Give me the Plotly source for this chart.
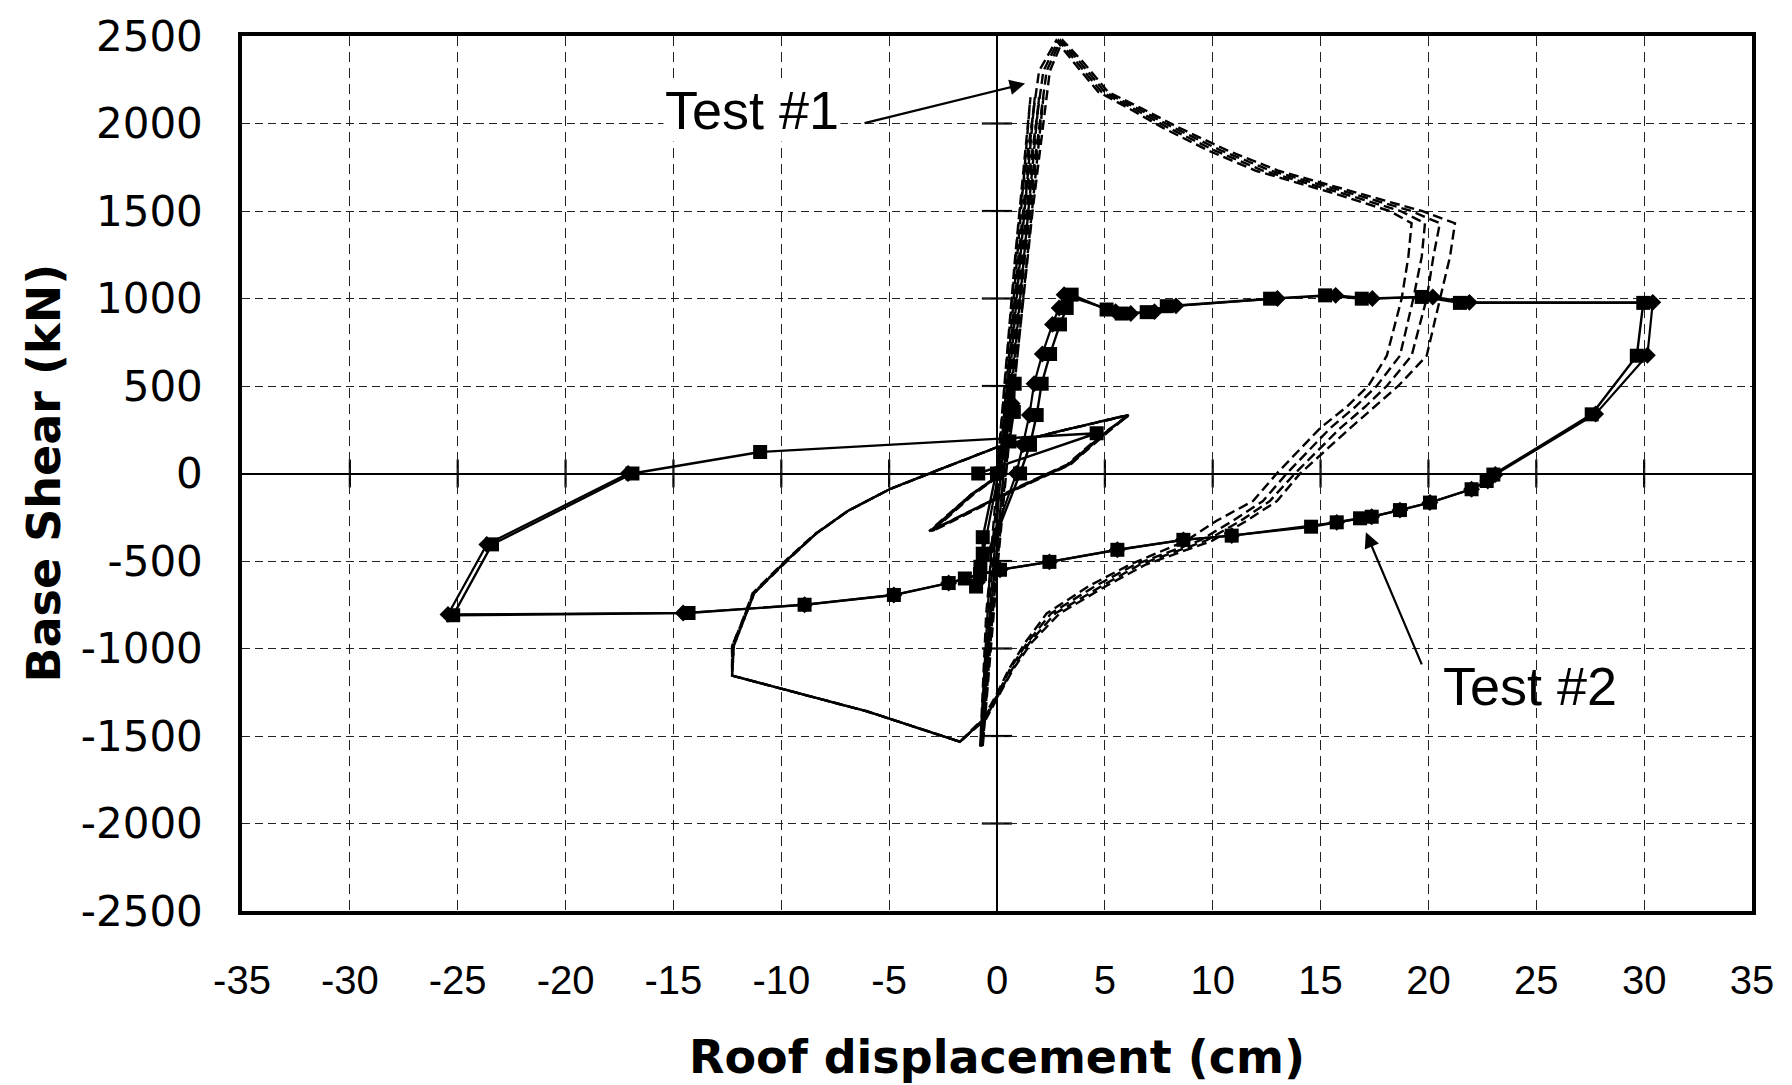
import plotly.graph_objects as go

# ---------------- axis ticks ----------------
x_tick_vals = [-35, -30, -25, -20, -15, -10, -5, 0, 5, 10, 15, 20, 25, 30, 35]
x_tick_text = ["-35", "-30", "-25", "-20", "-15", "-10", "-5", "0", "5", "10", "15", "20", "25", "30", "35"]
y_tick_vals = [-2500, -2000, -1500, -1000, -500, 0, 500, 1000, 1500, 2000, 2500]
y_tick_text = ["-2500", "-2000", "-1500", "-1000", "-500", "0", "500", "1000", "1500", "2000", "2500"]

# ---------------- Test #1 (dashed, four nearly coincident records) ----------------
t1_shear = [0, 1250, 2150, 0, -800, -1560, -500, 500, 1500, 2300,
            2475, 2350, 2180, 2087, 1975, 1845, 1730, 1605, 1500, 1430,
            1239, 1000, 673, 500, 380, 258, 0, -157, -270, -383,
            -520, -640, -800, -967, -1118, -1269, -1401, -1533, -1360, -1155,
            -985, -873, -684, -496, -345, -213, -90, 23, 150, 245,
            334, 232, 51, -90, -330, -120, 0]
t1_disp_a = [0.0, 0.85, 1.55, 0.1, -0.5, -0.78, -0.3, 0.35, 1.05, 1.95,
             2.75, 3.55, 4.7, 6.1, 7.7, 9.8, 12.0, 15.5, 18.2, 19.22,
             19.07, 18.76, 18.07, 17.21, 16.2, 14.97, 12.97, 11.87, 10.18, 8.79,
             6.17, 4.3, 2.3, 1.3, 0.55, -0.05, -0.65, -1.72, -6.0, -12.28,
             -12.28, -11.9, -11.33, -9.79, -8.44, -6.9, -4.98, -2.67, 0.0, 3.0,
             6.1, 5.0, 3.3, 0.8, -3.1, -1.2, 0.2]
t1_disp_b = [0.1, 1.0, 1.75, 0.2, -0.4, -0.74, -0.15, 0.5, 1.25, 2.15,
             2.85, 3.7, 4.85, 6.3, 7.95, 10.1, 12.35, 15.9, 18.7, 19.84,
             19.69, 19.3, 18.68, 17.6, 16.6, 15.44, 13.43, 12.33, 10.94, 9.4,
             6.4, 4.6, 2.5, 1.4, 0.6, 0.0, -0.6, -1.7, -6.0, -12.28,
             -12.28, -11.9, -11.3, -9.75, -8.4, -6.9, -4.98, -2.67, 0.0, 3.0,
             6.15, 4.95, 3.25, 0.75, -3.05, -1.15, 0.25]
t1_disp_c = [0.2, 1.15, 1.95, 0.3, -0.3, -0.7, -0.05, 0.65, 1.45, 2.3,
             2.95, 3.85, 5.0, 6.5, 8.2, 10.4, 12.7, 16.3, 19.2, 20.53,
             20.23, 19.92, 19.22, 18.07, 17.05, 15.9, 13.81, 12.65, 11.3, 9.7,
             6.63, 4.9, 2.7, 1.5, 0.7, 0.05, -0.55, -1.72, -6.0, -12.28,
             -12.2, -11.85, -11.25, -9.75, -8.4, -6.9, -4.98, -2.67, 0.0, 3.0,
             6.05, 5.05, 3.35, 0.85, -3.15, -1.2, 0.2]
t1_disp_d = [0.3, 1.3, 2.15, 0.4, -0.2, -0.66, 0.05, 0.8, 1.65, 2.45,
             3.05, 4.0, 5.15, 6.7, 8.45, 10.7, 13.05, 16.7, 19.7, 21.23,
             21.0, 20.54, 19.92, 18.6, 17.5, 16.36, 14.05, 12.98, 11.58, 10.0,
             6.9, 5.1, 2.9, 1.6, 0.75, 0.1, -0.5, -1.72, -6.0, -12.28,
             -12.2, -11.85, -11.25, -9.7, -8.4, -6.9, -4.98, -2.67, 0.0, 3.0,
             6.1, 5.1, 3.4, 0.9, -3.0, -1.1, 0.25]

# ---------------- Test #2 (solid with square markers) ----------------
t2_disp = [0.0, 0.58, 0.78, 0.82, -0.66, -0.66, -0.77, -0.97, 1.07, 1.53,
           1.84, 2.07, 2.46, 2.92, 3.23, 3.46, 5.08, 5.78, 6.94, 7.87,
           12.66, 15.21, 16.91, 19.69, 21.46, 29.96, 29.66, 27.57, 23.01, 22.7,
           22.0, 20.07, 18.68, 17.37, 16.83, 15.75, 14.56, 10.88, 8.64, 5.58,
           2.43, 0.14, -0.79, -1.49, -2.24, -4.78, -8.92, -14.3, -25.21, -23.41,
           -16.9, -10.98, 4.62, -0.87]
t2_shear = [0, 183, 352, 513, -364, -458, -533, -646, 0, 164,
            334, 513, 683, 852, 946, 1022, 937, 914, 922, 956,
            999, 1018, 999, 1009, 975, 975, 673, 338, -6, -43,
            -90, -166, -209, -247, -256, -279, -304, -355, -379, -436,
            -505, -550, -575, -600, -626, -694, -750, -797, -810, -405,
            0, 123, 230, 0]

# ---------------- Test #2 repeat record (solid with diamond markers) ----------------
t2b_disp = [0.0, 0.7, -0.9, 0.9, 1.2, 1.5, 1.72, 2.1, 2.57, 2.88,
            3.11, 5.5, 6.2, 7.3, 8.3, 13.0, 15.7, 17.4, 20.2, 21.9,
            30.4, 30.15, 27.75, 23.1, 22.75, 22.0, 20.07, 18.68, 17.37, 15.75,
            10.88, 8.64, 5.58, 2.43, 0.14, -2.24, -4.78, -8.92, -14.55, -25.45,
            -23.65, -17.1]
t2b_shear = [0, 400, -620, 0, 164, 334, 513, 683, 852, 946,
             1022, 925, 914, 925, 958, 1000, 1018, 1000, 1009, 978,
             978, 676, 340, -6, -43, -90, -166, -209, -247, -279,
             -355, -379, -436, -505, -550, -626, -694, -750, -797, -805,
             -405, 0]

fig = go.Figure()

dash_style = "10px,5px"
for xs in (t1_disp_a, t1_disp_b, t1_disp_c, t1_disp_d):
    fig.add_trace(go.Scatter(
        x=xs, y=t1_shear, mode="lines",
        line=dict(color="black", width=2.4, dash=dash_style),
        hoverinfo="skip", showlegend=False))

fig.add_trace(go.Scatter(
    x=t2b_disp, y=t2b_shear, mode="lines+markers",
    line=dict(color="black", width=2.2),
    marker=dict(symbol="diamond", size=13, color="black"),
    showlegend=False))
fig.add_trace(go.Scatter(
    x=t2_disp, y=t2_shear, mode="lines+markers",
    line=dict(color="black", width=2.4),
    marker=dict(symbol="square", size=14, color="black"),
    showlegend=False))

# crossing tick marks on the zero lines (Excel style)
shapes = []
for v in x_tick_vals:
    if v not in (0, x_tick_vals[0], x_tick_vals[-1]):
        shapes.append(dict(type="line", xref="x", yref="y", x0=v, x1=v, y0=-80, y1=80,
                           line=dict(color="black", width=2.2), layer="below"))
for v in y_tick_vals:
    if v not in (0, y_tick_vals[0], y_tick_vals[-1]):
        shapes.append(dict(type="line", xref="x", yref="y", x0=-0.7, x1=0.7, y0=v, y1=v,
                           line=dict(color="black", width=2.2), layer="below"))

annotations = [
    dict(x=1.30, y=2228, ax=-6.21, ay=2000, xref="x", yref="y", axref="x", ayref="y",
         showarrow=True, arrowhead=2, arrowsize=1.4, arrowwidth=2.2, arrowcolor="black", text=""),
    dict(x=17.1, y=-336, ax=19.72, ay=-1099, xref="x", yref="y", axref="x", ayref="y",
         showarrow=True, arrowhead=2, arrowsize=1.4, arrowwidth=2.2, arrowcolor="black", text=""),
    dict(x=-11.36, y=2080, xref="x", yref="y", text="Test #1", showarrow=False,
         font=dict(family="Liberation Sans, Arial", size=54, color="black"),
         bgcolor="white", xanchor="center", yanchor="middle"),
    dict(x=24.71, y=-1215, xref="x", yref="y", text="Test #2", showarrow=False,
         font=dict(family="Liberation Sans, Arial", size=54, color="black"),
         xanchor="center", yanchor="middle"),
    dict(x=0.5, y=0, xref="paper", yref="paper", text="<b>Roof displacement (cm)</b>",
         showarrow=False, xanchor="center", yanchor="middle", yshift=-146,
         font=dict(family="DejaVu Sans", size=46, color="black")),
    dict(x=0, y=0.5, xref="paper", yref="paper", text="<b>Base Shear (kN)</b>",
         showarrow=False, xanchor="center", yanchor="middle", xshift=-199, textangle=-90,
         font=dict(family="DejaVu Sans", size=46, color="black")),
]

fig.update_layout(
    width=1792, height=1085,
    margin=dict(l=242, r=40, t=27, b=174),
    paper_bgcolor="white", plot_bgcolor="white",
    showlegend=False,
    shapes=shapes,
    annotations=annotations,
    xaxis=dict(
        range=[-35, 35], tickvals=x_tick_vals, ticktext=x_tick_text,
        showgrid=True, gridcolor="#222222", gridwidth=1, griddash="10px,6px",
        zeroline=True, zerolinecolor="black", zerolinewidth=2,
        showline=True, mirror=True, linecolor="black", linewidth=3.5,
        ticks="", ticklabelstandoff=31,
        tickfont=dict(family="Liberation Sans, Arial", size=40, color="black"),
        fixedrange=True,
    ),
    yaxis=dict(
        range=[-2500, 2500], tickvals=y_tick_vals, ticktext=y_tick_text,
        showgrid=True, gridcolor="#222222", gridwidth=1, griddash="8px,5px",
        zeroline=True, zerolinecolor="black", zerolinewidth=2,
        showline=True, mirror=True, linecolor="black", linewidth=3.5,
        ticks="", ticklabelstandoff=27,
        tickfont=dict(family="DejaVu Sans", size=42, color="black"),
        fixedrange=True,
    ),
)

fig.write_html("out.html")
